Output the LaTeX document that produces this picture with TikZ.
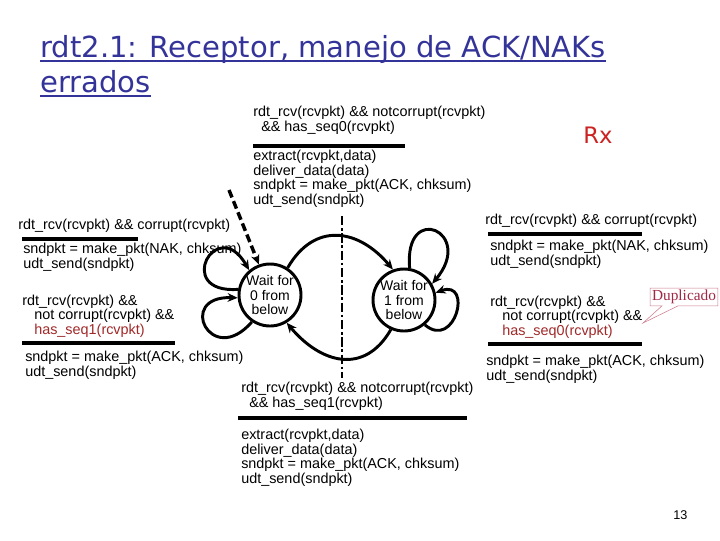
\documentclass[tikz,border=0pt]{standalone}
\usepackage{fontspec}
\setmainfont{Liberation Sans}
\newfontfamily\titlefont{DejaVu Sans}
\newfontfamily\notefont{Liberation Serif}
\usetikzlibrary{arrows.meta}
\usetikzlibrary{shapes.callouts}
\definecolor{titleblue}{RGB}{51,51,153}
\definecolor{seqred}{RGB}{160,40,40}
\definecolor{rxred}{RGB}{204,34,34}
\definecolor{dupred}{RGB}{160,40,70}
\definecolor{dupedge}{RGB}{205,120,140}
\tikzstyle{state}=[draw, circle, line width=2.2pt, minimum size=45pt, inner sep=0, align=center, font=\fontsize{10.5}{11}\selectfont]
\tikzstyle{trans}=[line width=2.2pt, -{Stealth[length=7.5pt, width=6.5pt]}]
\tikzstyle{init edge}=[line width=2.6pt, dash pattern=on 6pt off 3pt, -{Stealth[length=7.5pt, width=6.5pt]}]
\tikzstyle{event}=[anchor=base west, inner sep=0, align=left, font=\fontsize{10.8}{10.8}\selectfont]
\tikzstyle{bar}=[line width=3pt]
\tikzstyle{divider}=[line width=1.5pt, dash pattern=on 7pt off 2pt on 2pt off 2pt]
\tikzstyle{heading}=[anchor=base west, inner sep=0, text=titleblue, font=\titlefont\fontsize{21.8}{26}\selectfont]

\begin{document}
\begin{tikzpicture}[x=0.75pt, y=-0.75pt]
      \useasboundingbox (0,0) rectangle (720,540);

      % title
      \node[heading] (title1) at (40,57) {rdt2.1: Receptor, manejo de ACK/NAKs};
      \node[heading] (title2) at (40,92) {errados};
      \draw[titleblue, line width=1.5pt] ([yshift=-3pt]title1.base west) -- ([yshift=-3pt]title1.base east);
      \draw[titleblue, line width=1.5pt] ([yshift=-3pt]title2.base west) -- ([yshift=-3pt]title2.base east);
      \node[anchor=base west, inner sep=0, text=rxred, font=\titlefont\fontsize{17}{17}\selectfont] (rx) at (583,143) {Rx};

      % states
      \node[state] (s0) at (270,295) {Wait for\\0 from\\below};
      \node[state] (s1) at (404,300) {Wait for\\1 from\\below};

      \coordinate (init) at (229,190);
      \draw[init edge] (init) -- (s0.110);
      \draw[divider] (342,216) -- (342,378);

      \draw[trans] (s0.57) to[out=60, in=130, looseness=1.3] (s1.110);
      \draw[trans] (s1.246) to[out=240, in=-50, looseness=1.3] (s0.301);
      \draw[trans] (s0.170) to[out=184, in=120, looseness=7.5] (s0.130);
      \draw[trans] (s0.236) to[out=229, in=178, looseness=5.7] (s0.185);
      \draw[trans] (s1.80) to[out=95, in=50, looseness=6.3] (s1.30);
      \draw[trans] (s1.310) to[out=-40, in=20, looseness=3] (s1.13);

      % top transition (base = last line)
      \node[event] (top_guard) at (253,131) {rdt\_rcv(rcvpkt) \&\& notcorrupt(rcvpkt)\\\hspace*{6pt}\&\& has\_seq0(rcvpkt)};
      \draw[bar] (253,146) -- (405,146);
      \node[event] (top_action) at (253,204) {extract(rcvpkt,data)\\deliver\_data(data)\\sndpkt = make\_pkt(ACK, chksum)\\udt\_send(sndpkt)};

      % left loops
      \node[event] (l_guard1) at (18,229) {rdt\_rcv(rcvpkt) \&\& corrupt(rcvpkt)};
      \draw[bar] (22,239) -- (138,239);
      \node[event] (l_action1) at (23,268) {sndpkt = make\_pkt(NAK, chksum)\\udt\_send(sndpkt)};
      \node[event] (l_guard2) at (22,334) {rdt\_rcv(rcvpkt) \&\&\\\hspace*{9pt}not corrupt(rcvpkt) \&\&\\\hspace*{9pt}\textcolor{seqred}{has\_seq1(rcvpkt)}};
      \draw[bar] (22,343) -- (175,343);
      \node[event] (l_action2) at (25,376) {sndpkt = make\_pkt(ACK, chksum)\\udt\_send(sndpkt)};

      % right loops
      \node[event] (r_guard1) at (485,224) {rdt\_rcv(rcvpkt) \&\& corrupt(rcvpkt)};
      \draw[bar] (488,234) -- (642,234);
      \node[event] (r_action1) at (490,265) {sndpkt = make\_pkt(NAK, chksum)\\udt\_send(sndpkt)};
      \node[event] (r_guard2) at (490,335) {rdt\_rcv(rcvpkt) \&\&\\\hspace*{9pt}not corrupt(rcvpkt) \&\&\\\hspace*{9pt}\textcolor{seqred}{has\_seq0(rcvpkt)}};
      \draw[bar] (488,344) -- (642,344);
      \node[event] (r_action2) at (486,380) {sndpkt = make\_pkt(ACK, chksum)\\udt\_send(sndpkt)};
      \node[rectangle callout, draw=dupedge, text=dupred, inner sep=1.5pt, font=\notefont\fontsize{11.5}{12}\selectfont,
            callout absolute pointer={(643,323)}, callout pointer width=12pt] (dup) at (684,297) {Duplicado};

      % bottom transition
      \node[event] (b_guard) at (241,407) {rdt\_rcv(rcvpkt) \&\& notcorrupt(rcvpkt)\\\hspace*{6pt}\&\& has\_seq1(rcvpkt)};
      \draw[bar] (238,418) -- (467,418);
      \node[event] (b_action) at (241,483) {extract(rcvpkt,data)\\deliver\_data(data)\\sndpkt = make\_pkt(ACK, chksum)\\udt\_send(sndpkt)};

      \node[anchor=base west, inner sep=0, font=\fontsize{9.5}{10}\selectfont] (pagenum) at (673,519) {13};
    \end{tikzpicture}
\end{document}
